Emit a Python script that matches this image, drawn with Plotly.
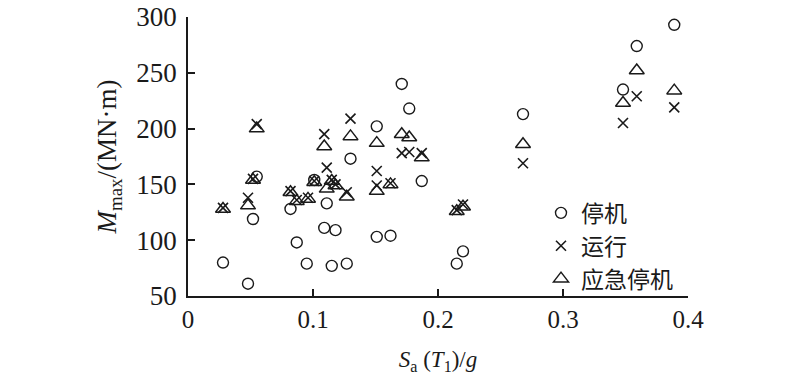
import plotly.graph_objects as go

# 停机 (circles)
stop_x = [0.028, 0.048, 0.052, 0.055, 0.082, 0.087, 0.095, 0.101, 0.111, 0.109, 0.118, 0.115, 0.127,
          0.130, 0.151, 0.151, 0.162, 0.171, 0.177, 0.187, 0.215, 0.220, 0.268, 0.348, 0.359, 0.389]
stop_y = [80, 61, 119, 157, 128, 98, 79, 154, 133, 111, 109, 77, 79,
          173, 202, 103, 104, 240, 218, 153, 79, 90, 213, 235, 274, 293]

# 运行 (crosses)
run_x = [0.028, 0.048, 0.052, 0.055, 0.082, 0.087, 0.096, 0.101, 0.109, 0.111, 0.115, 0.118, 0.127,
         0.130, 0.151, 0.151, 0.162, 0.171, 0.177, 0.187, 0.215, 0.220, 0.268, 0.348, 0.359, 0.389]
run_y = [129, 138, 155, 204, 144, 136, 138, 153, 195, 165, 154, 150, 143,
         209, 162, 149, 151, 178, 179, 178, 127, 132, 169, 205, 229, 219]

# 应急停机 (triangles)
emg_x = [0.028, 0.048, 0.052, 0.055, 0.082, 0.087, 0.096, 0.101, 0.109, 0.111, 0.115, 0.118, 0.127,
         0.130, 0.151, 0.151, 0.162, 0.171, 0.177, 0.187, 0.215, 0.220, 0.268, 0.348, 0.359, 0.389]
emg_y = [128, 131, 154, 200, 143, 135, 137, 152, 184, 146, 153, 149, 139,
         193, 187, 144, 150, 195, 192, 174, 126, 130, 186, 223, 252, 234]

x_ticks = [0, 0.1, 0.2, 0.3, 0.4]
x_tick_text = ["0", "0.1", "0.2", "0.3", "0.4"]
y_ticks = [50, 100, 150, 200, 250, 300]

ink = "#1a1a1a"

fig = go.Figure()
fig.add_trace(go.Scatter(x=stop_x, y=stop_y, mode="markers", name="停机",
                         marker=dict(symbol="circle-open", size=11, color=ink, line=dict(width=1.4))))
fig.add_trace(go.Scatter(x=run_x, y=run_y, mode="markers", name="运行",
                         marker=dict(symbol="x-thin-open", size=10, color=ink, line=dict(width=1.6))))
fig.add_trace(go.Scatter(x=emg_x, y=emg_y, mode="markers", name="应急停机",
                         marker=dict(symbol="triangle-up-open", size=13, color=ink, line=dict(width=1.5))))

fig.update_layout(
    width=800, height=375,
    margin=dict(l=188, r=112, t=17, b=79),
    paper_bgcolor="white", plot_bgcolor="white",
    font=dict(family="Liberation Serif", size=24, color=ink),
    showlegend=True,
    legend=dict(x=0.706, y=0.375, xanchor="left", yanchor="top",
                font=dict(family="Noto Sans CJK SC", size=23, color=ink),
                bgcolor="rgba(0,0,0,0)", itemwidth=30, tracegroupgap=0),
    xaxis=dict(range=[0, 0.4], tickvals=x_ticks, ticktext=x_tick_text,
               automargin=False, ticklabeloverflow="allow",
               tickfont=dict(size=25),
               showline=True, linecolor=ink, linewidth=1.5, mirror=False,
               ticks="inside", ticklen=7, tickwidth=1.5, tickcolor=ink,
               showgrid=False, zeroline=False,
               title=dict(text="<i>S</i><sub>a</sub> (<i>T</i><sub>1</sub>)/<i>g</i>",
                          font=dict(size=23), standoff=21)),
    yaxis=dict(range=[50, 300], tickvals=y_ticks,
               automargin=False, ticklabeloverflow="allow",
               tickfont=dict(size=27), ticklabelstandoff=4,
               showline=True, linecolor=ink, linewidth=1.5, mirror=False,
               ticks="inside", ticklen=7, tickwidth=1.5, tickcolor=ink,
               showgrid=False, zeroline=False,
               title=dict(text="<i>M</i><sub>max</sub>/(MN·m)", font=dict(size=27), standoff=12)),
)

fig.write_html("out.html", config={"displayModeBar": False},
               post_script="document.body.style.margin='0';")
